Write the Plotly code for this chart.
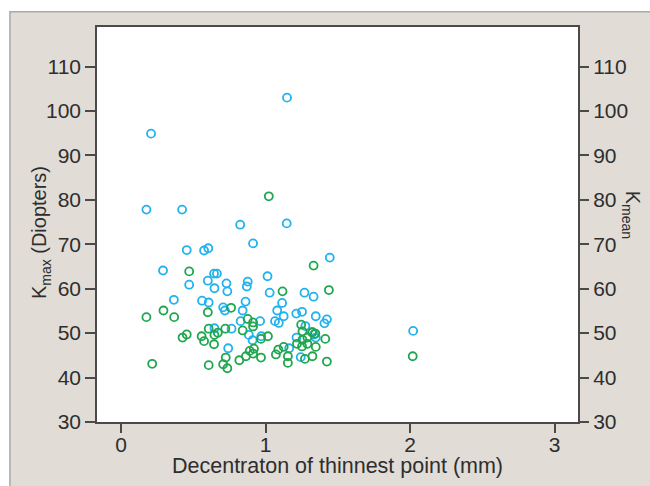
import plotly.graph_objects as go

# K_max (blue) vs decentration
kmax_x = [1.148, 0.207, 0.175, 0.422, 0.824, 1.146, 0.913, 0.454, 0.574, 0.603,
          1.444, 0.290, 0.643, 0.663, 1.013, 0.600, 0.876, 0.471, 0.729, 0.870,
          0.646, 0.735, 1.028, 1.269, 1.332, 0.365, 0.560, 0.606, 0.861, 1.114,
          0.706, 0.718, 0.841, 1.080, 1.212, 1.252, 1.125, 1.347, 1.424, 1.407,
          0.827, 0.962, 1.065, 1.091, 1.275, 0.646, 0.764, 0.884, 0.970, 1.335,
          1.214, 1.347, 0.910, 0.741, 1.163, 1.243, 2.021, 1.325]
kmax_y = [103.0, 94.9, 77.8, 77.8, 74.4, 74.7, 70.2, 68.7, 68.6, 69.1,
          67.0, 64.1, 63.4, 63.4, 62.8, 61.8, 61.6, 60.9, 61.2, 60.5,
          60.1, 59.4, 59.1, 59.1, 58.2, 57.5, 57.3, 56.9, 57.1, 56.8,
          55.8, 55.1, 55.1, 55.1, 54.4, 54.8, 53.8, 53.8, 53.1, 52.2,
          52.7, 52.7, 52.7, 52.3, 51.6, 51.1, 51.0, 49.6, 49.3, 49.7,
          49.0, 49.0, 48.4, 46.6, 46.6, 44.6, 50.5, 50.2]

# K_mean (green) vs decentration
kmean_x = [1.022, 1.332, 0.471, 1.117, 1.438, 0.293, 0.761, 0.175, 0.367, 0.600,
           0.876, 0.913, 0.913, 1.246, 1.255, 0.606, 0.721, 0.841, 0.669, 0.646,
           0.454, 0.425, 0.557, 0.574, 0.643, 1.016, 0.968, 1.321, 1.344, 1.413,
           1.289, 1.255, 1.217, 1.289, 1.252, 1.347, 1.125, 1.088, 1.071, 1.154,
           1.154, 1.324, 1.272, 1.424, 0.919, 0.890, 0.913, 0.864, 0.968, 0.818,
           0.724, 0.706, 0.735, 0.606, 0.215, 2.018]
kmean_y = [80.8, 65.2, 63.9, 59.4, 59.7, 55.1, 55.7, 53.6, 53.6, 54.7,
           53.2, 52.4, 51.5, 51.9, 50.4, 51.0, 51.0, 50.6, 50.1, 49.6,
           49.7, 49.0, 49.3, 48.2, 47.5, 49.3, 48.7, 50.2, 49.9, 48.7,
           49.0, 48.5, 47.6, 47.6, 47.0, 46.9, 46.9, 46.3, 45.2, 44.8,
           43.3, 44.8, 44.2, 43.6, 46.5, 46.0, 45.4, 44.8, 44.5, 43.9,
           44.5, 43.0, 42.1, 42.8, 43.1, 44.8]

x_ticks = [0, 1, 2, 3]
y_ticks = [30, 40, 50, 60, 70, 80, 90, 100, 110]

BLUE = "#22b2ee"
GREEN = "#1fa64e"
AX = "#4a4a4a"
TXT = "#2e2e2e"
FONT = "Liberation Sans, Arial, sans-serif"

fig = go.Figure()
fig.add_trace(go.Scatter(
    x=kmax_x, y=kmax_y, mode="markers", name="Kmax",
    marker=dict(symbol="circle-open", size=8, color=BLUE, line=dict(width=1.8, color=BLUE)),
    yaxis="y"))
fig.add_trace(go.Scatter(
    x=kmean_x, y=kmean_y, mode="markers", name="Kmean",
    marker=dict(symbol="circle-open", size=8, color=GREEN, line=dict(width=1.8, color=GREEN)),
    yaxis="y2"))

yr = [30, 118.9]
fig.update_layout(
    width=650, height=486,
    margin=dict(l=97, r=72, t=27, b=64),
    paper_bgcolor="white", plot_bgcolor="white",
    showlegend=False,
    font=dict(family=FONT, size=20, color=TXT),
    xaxis=dict(range=[-0.167, 3.162], tickvals=x_ticks, ticks="outside", ticklen=9,
               tickwidth=1.5, tickcolor=AX, showline=True, linecolor=AX, linewidth=1.5,
               mirror=True, showgrid=False, zeroline=False, ticklabelstandoff=-6,
               tickfont=dict(size=21, color=TXT)),
    yaxis=dict(range=yr, tickvals=y_ticks, ticks="outside", ticklen=10,
               tickwidth=1.5, tickcolor=AX, showline=True, linecolor=AX, linewidth=1.5,
               mirror=True, showgrid=False, zeroline=False,
               tickfont=dict(size=21, color=TXT)),
    yaxis2=dict(range=yr, tickvals=y_ticks, ticks="outside", ticklen=10,
                tickwidth=1.5, tickcolor=AX, overlaying="y", side="right",
                showline=False, showgrid=False, zeroline=False,
                tickfont=dict(size=21, color=TXT)),
    shapes=[
        dict(type="rect", xref="paper", yref="paper", x0=-0.181, x1=1.4, y0=-0.4, y1=1.0385,
             fillcolor="#e1dcd6", line=dict(color="#a9a9a9", width=1.5), layer="below"),
        dict(type="rect", xref="paper", yref="paper", x0=0, x1=1, y0=0, y1=1,
             fillcolor="white", line=dict(width=0), layer="below"),
    ],
    annotations=[
        dict(text="Decentraton of thinnest point (mm)", xref="paper", yref="paper",
             x=0.5, y=-0.111, showarrow=False, xanchor="center", yanchor="middle",
             font=dict(size=21.5, color=TXT)),
        dict(text="K<sub>max</sub> (Diopters)", xref="paper", yref="paper",
             x=-0.117, y=0.48, textangle=-90, showarrow=False,
             xanchor="center", yanchor="middle", font=dict(size=20, color=TXT)),
        dict(text="K<sub>mean</sub>", xref="paper", yref="paper",
             x=1.113, y=0.524, textangle=90, showarrow=False,
             xanchor="center", yanchor="middle", font=dict(size=20, color=TXT)),
    ],
)

fig.write_html("out.html", config={"displayModeBar": False},
               post_script="document.body.style.margin='0';document.body.style.overflow='hidden';")
